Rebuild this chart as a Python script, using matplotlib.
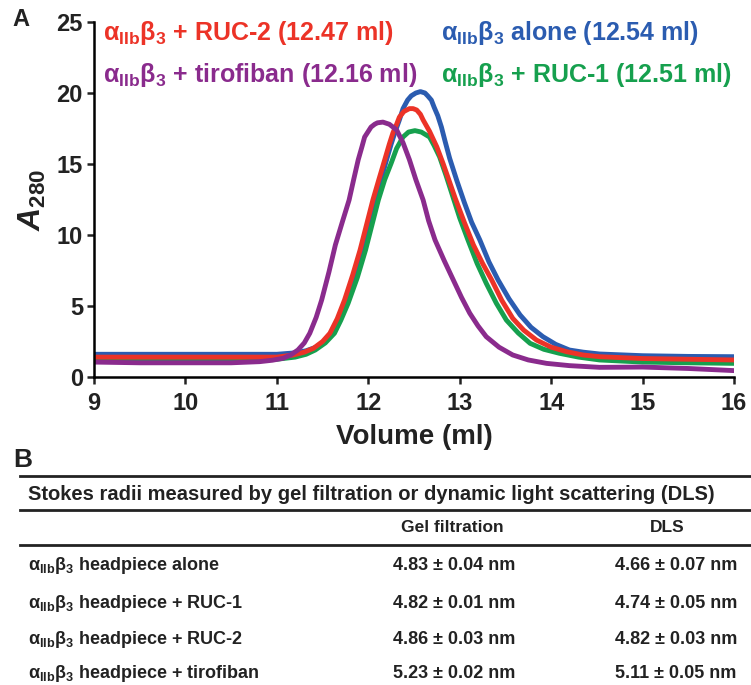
import numpy as np
import matplotlib
matplotlib.use("Agg")
import matplotlib.pyplot as plt
from matplotlib.lines import Line2D

plt.rcParams['font.family'] = ['Liberation Sans', 'DejaVu Sans']
plt.rcParams['font.weight'] = 'bold'
plt.rcParams['mathtext.fontset'] = 'custom'
plt.rcParams['mathtext.rm'] = 'Liberation Sans:bold'
plt.rcParams['mathtext.it'] = 'Liberation Sans:italic:bold'
plt.rcParams['mathtext.bf'] = 'Liberation Sans:bold'

# elution profiles
vol_alone = [9.0, 9.5, 10.0, 10.5, 11.0, 11.2, 11.32, 11.43, 11.52, 11.61, 11.69, 11.77,
             11.86, 11.94, 12.01, 12.08, 12.14, 12.2, 12.25, 12.29, 12.34, 12.38, 12.43,
             12.47, 12.52, 12.57, 12.62, 12.65, 12.69, 12.72, 12.76, 12.8, 12.84, 12.89,
             12.97, 13.05, 13.13, 13.22, 13.32, 13.42, 13.54, 13.66, 13.78, 13.91, 14.05,
             14.2, 14.35, 14.53, 15.0, 15.5, 16.0]
a280_alone = [1.6, 1.6, 1.6, 1.6, 1.6, 1.7, 1.85, 2.1, 2.5, 3.1, 4.1, 5.4,
              7.1, 8.9, 10.7, 12.5, 13.9, 15.3, 16.4, 17.2, 18.1, 18.9, 19.5,
              19.8, 20.0, 20.1, 20.0, 19.8, 19.5, 19.0, 18.4, 17.6, 16.6, 15.4,
              13.8, 12.3, 10.9, 9.65, 8.1, 6.83, 5.5, 4.37, 3.5, 2.84, 2.3,
              1.9, 1.75, 1.62, 1.5, 1.45, 1.43]

vol_ruc2 = [9.0, 9.5, 10.0, 10.5, 11.0, 11.18, 11.3, 11.4, 11.5, 11.58, 11.66, 11.74,
            11.83, 11.91, 11.98, 12.05, 12.12, 12.18, 12.23, 12.27, 12.31, 12.34, 12.39,
            12.45, 12.49, 12.53, 12.57, 12.6, 12.67, 12.75, 12.82, 12.88, 12.95, 13.05,
            13.15, 13.25, 13.35, 13.46, 13.58, 13.7, 13.84, 14.0, 14.17, 14.35, 14.53,
            15.0, 15.5, 16.0]
a280_ruc2 = [1.4, 1.4, 1.4, 1.4, 1.4, 1.55, 1.75, 2.02, 2.5, 3.08, 4.1, 5.42,
             7.2, 8.94, 10.7, 12.46, 14.0, 15.3, 16.4, 17.2, 17.8, 18.3, 18.7,
             18.9, 18.9, 18.8, 18.5, 18.1, 17.3, 16.2, 15.0, 13.9, 12.6, 10.9,
             9.3, 8.0, 6.83, 5.4, 4.13, 3.3, 2.6, 2.1, 1.78, 1.55, 1.43,
             1.3, 1.25, 1.2]

vol_ruc1 = [9.0, 9.5, 10.0, 10.5, 11.0, 11.2, 11.32, 11.42, 11.53, 11.63, 11.7, 11.78,
            11.88, 11.97, 12.04, 12.11, 12.18, 12.25, 12.31, 12.38, 12.44, 12.51, 12.58,
            12.67, 12.72, 12.78, 12.85, 12.92, 13.0, 13.09, 13.19, 13.29, 13.4, 13.51,
            13.64, 13.77, 13.92, 14.09, 14.3, 14.53, 15.0, 15.5, 16.0]
a280_ruc1 = [1.2, 1.2, 1.2, 1.2, 1.25, 1.4, 1.6, 1.9, 2.4, 3.08, 4.0, 5.2,
             7.0, 8.94, 10.7, 12.46, 13.9, 15.05, 16.1, 16.9, 17.25, 17.35, 17.25,
             16.9, 16.3, 15.5, 14.2, 12.8, 11.2, 9.65, 8.0, 6.6, 5.2, 4.01,
             3.1, 2.37, 1.95, 1.67, 1.4, 1.2, 1.05, 1.0, 0.96]

vol_tiro = [9.0, 9.5, 10.0, 10.5, 10.81, 10.95, 11.07, 11.15, 11.23, 11.3, 11.36, 11.43,
            11.49, 11.57, 11.64, 11.72, 11.79, 11.84, 11.89, 11.93, 11.96, 12.0, 12.03,
            12.07, 12.1, 12.16, 12.23, 12.27, 12.31, 12.38, 12.45, 12.52, 12.6, 12.66,
            12.73, 12.83, 12.93, 13.02, 13.11, 13.2, 13.29, 13.43, 13.58, 13.75, 13.95,
            14.2, 14.53, 15.0, 15.5, 16.0]
a280_tiro = [1.05, 1.0, 1.0, 1.0, 1.08, 1.18, 1.32, 1.55, 1.9, 2.4, 3.08, 4.2,
             5.42, 7.4, 9.3, 11.0, 12.46, 13.9, 15.3, 16.2, 16.9, 17.3, 17.6,
             17.8, 17.9, 17.95, 17.8, 17.6, 17.4, 16.5, 15.3, 13.9, 12.46, 11.0,
             9.65, 8.2, 6.83, 5.6, 4.49, 3.6, 2.84, 2.1, 1.55, 1.2, 0.96,
             0.8, 0.68, 0.7, 0.6, 0.45]

c_blue = '#2b5cb0'
c_red = '#ec3327'
c_green = '#16a04e'
c_purple = '#8a2b8d'

ab3 = r"$\mathrm{\alpha_{IIb}\beta_3}$"

# table contents
row_names = ["headpiece alone", "headpiece + RUC-1", "headpiece + RUC-2", "headpiece + tirofiban"]
gel_radii = ["4.83 ± 0.04 nm", "4.82 ± 0.01 nm", "4.86 ± 0.03 nm", "5.23 ± 0.02 nm"]
dls_radii = ["4.66 ± 0.07 nm", "4.74 ± 0.05 nm", "4.82 ± 0.03 nm", "5.11 ± 0.05 nm"]

W, H = 751, 685
fig = plt.figure(figsize=(W / 100, H / 100), dpi=100)


def fx(x):
    return x / W


def fy(y):
    return 1 - y / H


ax = fig.add_axes([fx(94), fy(377), fx(734) - fx(94), fy(22) - fy(377)])
ax.plot(vol_alone, a280_alone, color=c_blue, lw=3.5)
ax.plot(vol_ruc1, a280_ruc1, color=c_green, lw=3.5)
ax.plot(vol_ruc2, a280_ruc2, color=c_red, lw=3.5)
ax.plot(vol_tiro, a280_tiro, color=c_purple, lw=3.5)

ax.set_xlim(9, 16)
ax.set_ylim(0, 25)
ax.set_xticks(range(9, 17))
ax.set_yticks(range(0, 26, 5))
for s in ['top', 'right']:
    ax.spines[s].set_visible(False)
for s in ['left', 'bottom']:
    ax.spines[s].set_linewidth(1.8)
ax.tick_params(direction='out', length=5, width=1.8, labelsize=17, colors='#222222')
ax.tick_params(axis='x', pad=6)
ax.tick_params(axis='y', pad=3)
ax.set_xlabel("Volume (ml)", fontsize=20, fontweight='bold', labelpad=6, color='#222222')
ax.set_ylabel(r"$\mathit{A}_{\mathrm{280}}$", fontsize=23, labelpad=6, color='#222222')

fig.text(fx(12), fy(20), "A", fontsize=17, fontweight='bold', va='center', ha='left', color='#222222')

fig.text(fx(103), fy(33), ab3 + " + RUC-2 (12.47 ml)", color=c_red, fontsize=18, va='center')
fig.text(fx(441), fy(33), ab3 + " alone (12.54 ml)", color=c_blue, fontsize=18, va='center')
fig.text(fx(103), fy(75), ab3 + " + tirofiban (12.16 ml)", color=c_purple, fontsize=18, va='center')
fig.text(fx(441), fy(75), ab3 + " + RUC-1 (12.51 ml)", color=c_green, fontsize=18, va='center')

# panel B: table
fig.text(fx(13), fy(460), "B", fontsize=19, fontweight='bold', va='center', ha='left', color='#222222')
for yy in [476, 510, 545]:
    fig.add_artist(Line2D([fx(20), 1.0], [fy(yy), fy(yy)], color='#222222', lw=2.0))
fig.text(fx(28), fy(494), "Stokes radii measured by gel filtration or dynamic light scattering (DLS)",
         fontsize=14.5, va='center', ha='left', color='#222222')
fig.text(fx(452), fy(527), "Gel filtration", fontsize=12.5, va='center', ha='center', color='#222222')
fig.text(fx(667), fy(527), "DLS", fontsize=12.5, va='center', ha='center', color='#222222')

row_y = [566, 603, 640, 673]
for name, g, d, yy in zip(row_names, gel_radii, dls_radii, row_y):
    fig.text(fx(28), fy(yy), ab3 + " " + name, fontsize=13, va='center', ha='left', color='#222222')
    fig.text(fx(454), fy(yy), g, fontsize=13, va='center', ha='center', color='#222222')
    fig.text(fx(676), fy(yy), d, fontsize=13, va='center', ha='center', color='#222222')

fig.savefig("out.png", dpi=100)
